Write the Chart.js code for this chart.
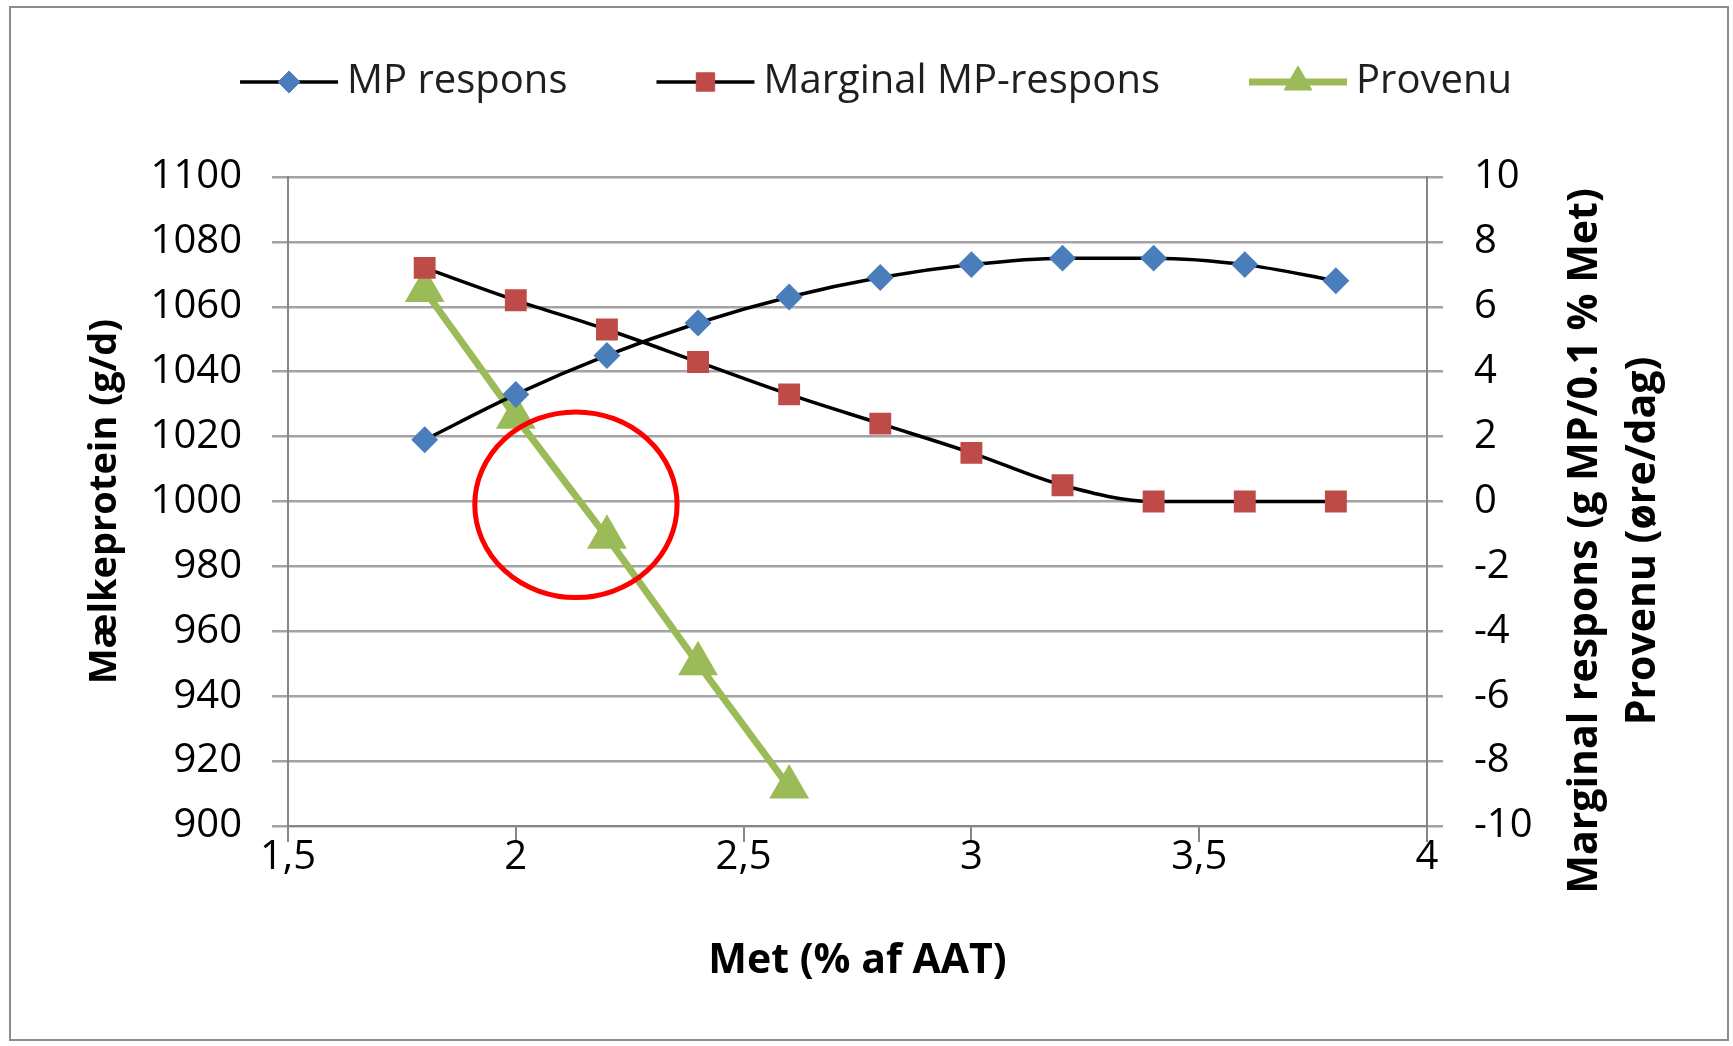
<!DOCTYPE html>
<html>
<head>
<meta charset="utf-8">
<script src="https://cdn.jsdelivr.net/npm/chart.js@4.4.1/dist/chart.umd.min.js"></script>
<style>
  html, body { margin: 0; padding: 0; background: #fff; overflow: hidden; }
  #wrap { position: relative; width: 1733px; height: 1046px; }
  #frame { position: absolute; left: 9px; top: 6px; width: 1720px; height: 1035px; box-sizing: border-box; border: 2px solid #8c8c8c; }
  canvas { position: absolute; left: 0; top: 0; }
</style>
</head>
<body>
<div id="wrap">
  <div id="frame"></div>
  <canvas id="chart" width="1733" height="1046"></canvas>
</div>
<script>
// Met (% af AAT)
const metX = [1.8, 2.0, 2.2, 2.4, 2.6, 2.8, 3.0, 3.2, 3.4, 3.6, 3.8];
// Mælkeprotein (g/d), venstre akse
const mpRespons = [1019, 1033, 1045, 1055, 1063, 1069, 1073, 1075, 1075, 1073, 1068];
// højre akse
const marginalRespons = [7.2, 6.2, 5.3, 4.3, 3.3, 2.4, 1.5, 0.5, 0, 0, 0];
const provenu = [6.5, 2.6, -1.1, -5.0, -8.8]; // kun 1,8 - 2,6

const seriesNames = ["MP respons", "Marginal MP-respons", "Provenu"];
const xTicks = [1.5, 2, 2.5, 3, 3.5, 4];
const leftTicks = [900, 920, 940, 960, 980, 1000, 1020, 1040, 1060, 1080, 1100];
const rightTicks = [-10, -8, -6, -4, -2, 0, 2, 4, 6, 8, 10];

const xTitle = "Met (% af AAT)";
const leftTitle = "Mælkeprotein (g/d)";
const rightTitle = ["Marginal respons (g MP/0.1 % Met)", "Provenu (øre/dag)"];

// rød ring (i data-enheder: x, højre akse)
const ring = { x: 2.132, y: -0.1, rx: 0.222, ry: 2.86 };

const FONT = '"Open Sans", "Liberation Sans", sans-serif';

function pts(xs, ys) {
  return ys.map((y, i) => ({ x: xs[i], y }));
}

function fixTicks(list) {
  return scale => { scale.ticks = list.map(v => ({ value: v })); };
}

const legendPlugin = {
  id: "excelLegend",
  afterDraw(chart) {
    const ctx = chart.ctx;
    const sets = chart.data.datasets;
    const symW = 98, gap = 9, itemGap = 89, cy = 82;
    ctx.save();
    ctx.font = "40px " + FONT;
    const widths = sets.map(d => symW + gap + ctx.measureText(d.label).width);
    const total = widths.reduce((a, b) => a + b, 0) + itemGap * (sets.length - 1);
    let x = 876 - total / 2;
    sets.forEach((d, i) => {
      ctx.strokeStyle = d.borderColor;
      ctx.lineWidth = d.borderWidth;
      ctx.beginPath();
      ctx.moveTo(x, cy);
      ctx.lineTo(x + symW, cy);
      ctx.stroke();
      ctx.fillStyle = d.pointBackgroundColor;
      ctx.strokeStyle = d.pointBorderColor;
      ctx.lineWidth = 1;
      Chart.helpers.drawPoint(ctx, { pointStyle: d.pointStyle, radius: d.pointRadius, rotation: 0, borderWidth: 1 }, x + symW / 2, cy);
      ctx.fillStyle = "#1f1f1f";
      ctx.textBaseline = "middle";
      ctx.textAlign = "left";
      ctx.fillText(d.label, x + symW + gap, cy);
      x += widths[i] + itemGap;
    });
    ctx.restore();
  }
};

const ringPlugin = {
  id: "ring",
  afterDatasetsDraw(chart) {
    const { x, y2 } = chart.scales;
    const ctx = chart.ctx;
    const cx = x.getPixelForValue(ring.x);
    const cy = y2.getPixelForValue(ring.y);
    const rx = Math.abs(x.getPixelForValue(ring.x + ring.rx) - cx);
    const ry = Math.abs(y2.getPixelForValue(ring.y + ring.ry) - cy);
    ctx.save();
    ctx.beginPath();
    ctx.ellipse(cx, cy, rx, ry, 0, 0, 2 * Math.PI);
    ctx.strokeStyle = "#ff0000";
    ctx.lineWidth = 5;
    ctx.stroke();
    ctx.restore();
  }
};

// højre aksetitel læses nedefra og op, som i Excel
const rightTitlePlugin = {
  id: "rightTitle",
  afterDraw(chart) {
    const ctx = chart.ctx;
    const area = chart.chartArea;
    ctx.save();
    ctx.translate(area.right + 158, 541);
    ctx.rotate(-Math.PI / 2);
    ctx.font = "bold 41px " + FONT;
    ctx.fillStyle = "#000";
    ctx.textAlign = "center";
    ctx.textBaseline = "middle";
    rightTitle.forEach((t, i) => ctx.fillText(t, 0, i * 58));
    ctx.restore();
  }
};

const tickFont = { family: FONT, size: 40 };
const titleFont = { family: FONT, size: 38, weight: "bold" };

new Chart(document.getElementById("chart").getContext("2d"), {
  type: "line",
  data: {
    datasets: [
      {
        label: seriesNames[0],
        data: pts(metX, mpRespons),
        yAxisID: "y",
        borderColor: "#000",
        borderWidth: 3.5,
        pointStyle: "rectRot",
        pointRadius: 11,
        pointBackgroundColor: "#4a7ebb",
        pointBorderColor: "#4a7ebb",
        cubicInterpolationMode: "monotone",
        order: 1
      },
      {
        label: seriesNames[1],
        data: pts(metX, marginalRespons),
        yAxisID: "y2",
        borderColor: "#000",
        borderWidth: 3.5,
        pointStyle: "rect",
        pointRadius: 13,
        pointBackgroundColor: "#be4b48",
        pointBorderColor: "#be4b48",
        cubicInterpolationMode: "monotone",
        order: 0
      },
      {
        label: seriesNames[2],
        data: pts(metX, provenu),
        yAxisID: "y2",
        borderColor: "#9bbb59",
        borderWidth: 7,
        pointStyle: "triangle",
        pointRadius: 16,
        pointBackgroundColor: "#9bbb59",
        pointBorderColor: "#9bbb59",
        tension: 0,
        order: 2
      }
    ]
  },
  options: {
    responsive: false,
    animation: false,
    devicePixelRatio: 1,
    layout: { padding: { top: 177, left: 80, right: 46, bottom: 60 } },
    plugins: { legend: { display: false }, tooltip: { enabled: false } },
    scales: {
      x: {
        type: "linear",
        min: xTicks[0],
        max: xTicks[xTicks.length - 1],
        afterBuildTicks: fixTicks(xTicks),
        afterFit: s => { s.height = 160; },
        ticks: {
          font: tickFont, color: "#000", padding: -8, maxRotation: 0,
          callback: v => String(v).replace(".", ",")
        },
        grid: { drawOnChartArea: false, tickLength: 16, color: "#868686", lineWidth: 2 },
        border: { color: "#868686", width: 2 },
        title: { display: true, text: xTitle, font: { family: FONT, size: 41, weight: "bold" }, color: "#000", padding: 0 }
      },
      y: {
        position: "left",
        min: leftTicks[0],
        max: leftTicks[leftTicks.length - 1],
        afterBuildTicks: fixTicks(leftTicks),
        afterFit: s => { s.width = 208; },
        ticks: { font: tickFont, color: "#000", padding: 30, callback: v => String(v) },
        grid: { color: "#a3a3a3", lineWidth: 2.5, tickLength: 16 },
        border: { color: "#868686", width: 2 },
        title: { display: true, text: leftTitle, font: titleFont, color: "#000", padding: { top: 2, bottom: 0 } }
      },
      y2: {
        position: "right",
        min: rightTicks[0],
        max: rightTicks[rightTicks.length - 1],
        afterBuildTicks: fixTicks(rightTicks),
        afterFit: s => { s.width = 260; },
        ticks: { font: tickFont, color: "#000", padding: 31, callback: v => String(v) },
        grid: { drawOnChartArea: false, color: "#a3a3a3", lineWidth: 2.5, tickLength: 16 },
        border: { color: "#868686", width: 2 }
      }
    }
  },
  plugins: [legendPlugin, ringPlugin, rightTitlePlugin]
});
</script>
</body>
</html>
